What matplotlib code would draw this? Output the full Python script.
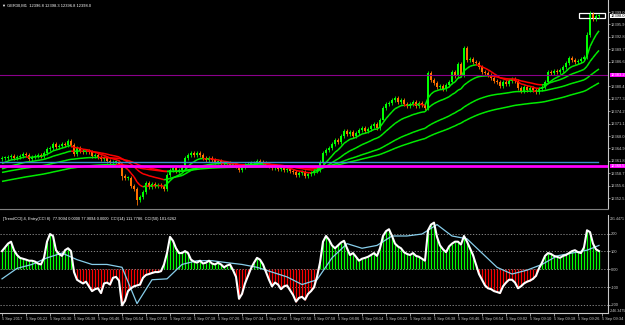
import matplotlib
matplotlib.use("Agg")
import matplotlib.pyplot as plt
import numpy as np
from matplotlib.collections import LineCollection
from matplotlib.patches import Rectangle

# M1 closes, GER30
closes = [
    12362.5, 12362.5, 12362.75, 12363, 12362.5, 12362.75, 12363, 12363.5, 12363.25, 12362.25,
    12362.75, 12363, 12363.25, 12363, 12363.75, 12364.75, 12365, 12366, 12365.25, 12365.5,
    12366, 12365.75, 12366.75, 12365.75, 12363.5, 12365, 12364.25, 12364, 12364.25, 12364,
    12363, 12363.25, 12362.75, 12362.25, 12362.5, 12361.75, 12361.25, 12361.5, 12361.5, 12360.75,
    12358, 12357.5, 12357.5, 12355.5, 12354.75, 12352, 12352.75, 12354, 12356.25, 12355.25,
    12356, 12355.5, 12355.75, 12355.5, 12354.75, 12358.25, 12359.5, 12360, 12359.25, 12359.5,
    12360, 12362.5, 12363.25, 12363.75, 12363.25, 12363.75, 12363.25, 12362.5, 12362, 12362.5,
    12362, 12361.5, 12361.75, 12361.25, 12361, 12361.25, 12360.75, 12361, 12360.5, 12359.5,
    12360.25, 12360.75, 12361, 12361.25, 12361.25, 12361.75, 12361.5, 12361.25, 12360.75, 12360.5,
    12360, 12360.25, 12359.75, 12360, 12359.5, 12359.75, 12359.25, 12359, 12358.25, 12358.75,
    12359, 12358, 12358.5, 12358.75, 12359.25, 12359.5, 12361.5, 12363.75, 12364.5, 12365,
    12366, 12367, 12366.5, 12368, 12369.25, 12368.5, 12369, 12368, 12368.75, 12369.5,
    12370, 12369.25, 12369.75, 12370.5, 12371, 12370, 12372, 12375, 12376, 12376.25,
    12377, 12377.5, 12376.5, 12377, 12376, 12375.5, 12376, 12376.5, 12375.5, 12376.25,
    12375.75, 12375, 12383.75, 12382, 12381.25, 12380.25, 12380.5, 12379.75, 12380.75, 12381.5,
    12384, 12383, 12386, 12383.25, 12390, 12387, 12387.25, 12386.5, 12386.25, 12385.25,
    12384, 12383.75, 12383.25, 12382.5, 12381.75, 12381.5, 12380.5, 12381.5, 12381, 12381.75,
    12382.25, 12381.75, 12380, 12379.25, 12380.25, 12379.5, 12380, 12379.5, 12379, 12379.75,
    12380.25, 12381.5, 12384, 12383.75, 12384.25, 12384, 12384.5, 12385.25, 12386.25, 12387.5,
    12387, 12386.5, 12386.75, 12387.25, 12387.75, 12393.25, 12398.5, 12397.25, 12398, 12398,
]
first_open = 12362.25
high_spikes = {142: 12384.25, 154: 12390.5, 195: 12394.0, 196: 12399.25}
low_spikes = {40: 12357.0, 45: 12350.75, 127: 12372.0, 142: 12374.5}

# moving averages (EMA) and their values at the left edge
ma_periods = [8, 21, 50, 80]
ma_seeds = [12360.75, 12359.5, 12358.75, 12356.5]

# TrendCCI window
cci14 = [
    102, 123, 144, 155, 107, 80, 64, 59, 54, 48,
    48, 43, 32, 27, 64, 155, 198, 187, 107, 86,
    75, 107, 118, 102, -16, -59, -70, -80, -70, -96,
    -123, -112, -107, -134, -80, -75, -86, -48, -43, -64,
    -203, -177, -123, -107, -96, -91, -86, -48, -32, -27,
    -21, -16, -16, -11, 27, 91, 182, 160, 118, 91,
    91, 102, 91, 54, 43, 37, 48, 32, 37, 48,
    32, 27, 37, 27, 11, 21, 27, -5, -43, -166,
    -139, -80, -37, 5, 37, 64, 54, 27, -16, -59,
    -96, -75, -86, -112, -96, -91, -118, -144, -182, -161,
    -155, -171, -139, -123, -102, -43, 37, 155, 187, 166,
    134, 118, 134, 150, 160, 118, 80, 91, 70, 48,
    59, 64, 70, 80, 91, 75, 118, 187, 214, 225,
    187, 144, 128, 118, 96, 86, 80, 91, 75, 70,
    59, 48, 219, 251, 262, 182, 134, 112, 96, 128,
    144, 155, 155, 139, 187, 155, 118, 80, 27, -27,
    -59, -91, -107, -112, -123, -128, -134, -96, -75, -59,
    -59, -75, -107, -96, -80, -70, -64, -54, -37, 5,
    37, 75, 91, 86, 75, 70, 64, 75, 80, 91,
    102, 107, 96, 91, 123, 219, 209, 144, 112, 102,
]
cci50_bars = list(range(0, 200, 5)) + [199]
cci50 = [
    -54, 5, 27, 64, 91, 54, 27, 27, 11, -193,
    -59, -54, 27, 48, 48, 37, 27, 11, -16, -43,
    -86, -59, 64, 144, 118, 134, 187, 187, 198, 251,
    187, 171, 91, 11, -27, -5, 27, 75, 91, 107, 134,
]

price_ticks = [12399.0, 12395.9, 12392.8, 12389.7, 12386.6, 12380.4, 12377.3, 12374.2,
               12371.1, 12368.0, 12364.9, 12361.8, 12358.7, 12355.6, 12352.5]
cci_ticks = [200, 100, 0, -100, -200]
time_labels = ["5 Sep 2017", "5 Sep 06:22", "5 Sep 06:30", "5 Sep 06:38", "5 Sep 06:46",
               "5 Sep 06:54", "5 Sep 07:02", "5 Sep 07:10", "5 Sep 07:18", "5 Sep 07:26",
               "5 Sep 07:34", "5 Sep 07:42", "5 Sep 07:50", "5 Sep 07:58", "5 Sep 08:06",
               "5 Sep 08:14", "5 Sep 08:22", "5 Sep 08:30", "5 Sep 08:38", "5 Sep 08:46",
               "5 Sep 08:54", "5 Sep 09:02", "5 Sep 09:10", "5 Sep 09:18", "5 Sep 09:26",
               "5 Sep 09:34"]

purple_level = 12383.25
blue_level = 12361.6
magenta_level = 12360.5
last_price = 12398.0

BG = "black"
FG = "#c8c8c8"
BULL = "#00ff00"
BEAR = "#ff7000"
FS = 2.9

plt.rcParams["font.family"] = ["Liberation Sans Narrow", "Liberation Sans", "DejaVu Sans"]

fig = plt.figure(figsize=(6.25, 3.25), dpi=100, facecolor=BG)
W, H = 625.0, 325.0
ax = fig.add_axes([0, (H - 208) / H, 608 / W, 208 / H], facecolor=BG)
ax2 = fig.add_axes([0, 12 / H, 608 / W, 98 / H], facecolor=BG)

c = np.array(closes)
n = len(c)
x = np.arange(n)
o = np.concatenate([[first_open], c[:-1]])
hi = np.maximum(o, c) + 0.4
lo = np.minimum(o, c) - 0.4
for k, v in high_spikes.items():
    hi[k] = v
for k, v in low_spikes.items():
    lo[k] = v
col = [BULL if cc >= oo else BEAR for oo, cc in zip(o, c)]

ax.vlines(x, lo, hi, colors=col, lw=0.6)
ax.bar(x, np.maximum(np.abs(c - o), 0.15), bottom=np.minimum(o, c), width=0.6,
       color=col, linewidth=0)

# moving averages, red while falling, green while rising
for p, seed in zip(ma_periods, ma_seeds):
    a = 2.0 / (p + 1)
    e = seed
    vals = []
    for v in c:
        e = e + a * (v - e)
        vals.append(e)
    vals = np.array(vals)
    pts = np.column_stack([x, vals])
    segs = np.stack([pts[:-1], pts[1:]], axis=1)
    sc = ["#00ee00" if vals[i + 1] >= vals[i] else "#ff0000" for i in range(n - 1)]
    ax.add_collection(LineCollection(segs, colors=sc, linewidths=1.1))

ax.axhline(purple_level, color="#8b008b", lw=0.8)
ax.plot([-0.67, 198.5], [blue_level, blue_level], color="#3a8fd0", lw=1)
ax.axhline(magenta_level, color="#ff00ff", lw=2)
ax.add_patch(Rectangle((192.3, 12397.5), 8.7, 1.3, fill=False, ec="white", lw=0.9))

ax.set_xlim(-0.67, 202)
ax.set_ylim(12350, 12402)
ax.set_xticks([])
ax.yaxis.tick_right()
ax.set_yticks(price_ticks)
ax.set_yticklabels(["%.1f" % t for t in price_ticks])
ax.tick_params(axis="y", colors=FG, labelsize=FS, length=1.5, width=0.5, pad=0.8)
for s in ["top", "left", "bottom"]:
    ax.spines[s].set_visible(False)
ax.spines["right"].set_color(FG)
ax.spines["right"].set_linewidth(0.8)

def axis_tag(a, y, txt, fc, tc):
    a.text(1.004, y, txt, transform=a.get_yaxis_transform(), fontsize=FS, color=tc,
           va="center", ha="left",
           bbox=dict(boxstyle="square,pad=0.12", fc=fc, ec="none"))

axis_tag(ax, purple_level, "%.1f" % purple_level, "#ff00ff", "white")
axis_tag(ax, magenta_level, "%.1f" % magenta_level, "#ff00ff", "white")
axis_tag(ax, last_price, "%.1f" % last_price, "white", "black")

fig.text(2 / W, 1 - 5.5 / H, "\u25bc GER30,M1  12396.8 12398.3 12396.8 12398.0",
         color="white", fontsize=FS, va="center", ha="left",
         family=["Liberation Sans Narrow", "Liberation Sans", "DejaVu Sans"])

# separator between the windows
fig.add_artist(plt.Line2D([0, 608 / W], [1 - 208.5 / H] * 2, color="#808080", lw=0.8))

# TrendCCI window
v14 = np.array(cci14)
hcol = [BULL if v >= 0 else "#ff0000" for v in v14]
ax2.vlines(x, 0, v14, colors=hcol, lw=0.9)
for t in cci_ticks:
    ax2.axhline(t, color="#9a9a9a", lw=0.6, ls=(0, (1.5, 2)), zorder=0)
ax2.plot(cci50_bars, cci50, color="#87ceeb", lw=0.9)
ax2.plot(x, v14, color="white", lw=1.5)

ax2.set_xlim(-0.67, 202)
ax2.set_ylim(-246, 305)
ax2.yaxis.tick_right()
ax2.set_yticks(cci_ticks)
ax2.set_yticklabels(["200", "100", "0.00", "-100", "-200"])
ax2.tick_params(axis="y", colors=FG, labelsize=FS, length=1.5, width=0.5, pad=0.8)
ax2.set_xticks(np.arange(0, 8 * len(time_labels), 8))
ax2.set_xticklabels(time_labels, ha="left")
ax2.tick_params(axis="x", colors=FG, labelsize=FS, length=2, width=0.5, pad=1.2)
for s in ["top", "left"]:
    ax2.spines[s].set_visible(False)
for s in ["right", "bottom"]:
    ax2.spines[s].set_color(FG)
    ax2.spines[s].set_linewidth(0.8)
ax2.text(1.003, 280, "291.4471", transform=ax2.get_yaxis_transform(), fontsize=2.6,
         color=FG, va="center", ha="left")
ax2.text(1.003, -232, "-246.3475", transform=ax2.get_yaxis_transform(), fontsize=2.6,
         color=FG, va="center", ha="left")
ax2.text(0.005, 0.955, "[TrendCCI] 4, Entry(CCI 8)  77.9094 0.0000 77.9094 0.0000  "
         "CCI(14) 111.7786  CCI(50) 101.6262", transform=ax2.transAxes,
         fontsize=FS, color="white", va="center", ha="left")

fig.savefig("out.png", dpi=100, facecolor=BG)
